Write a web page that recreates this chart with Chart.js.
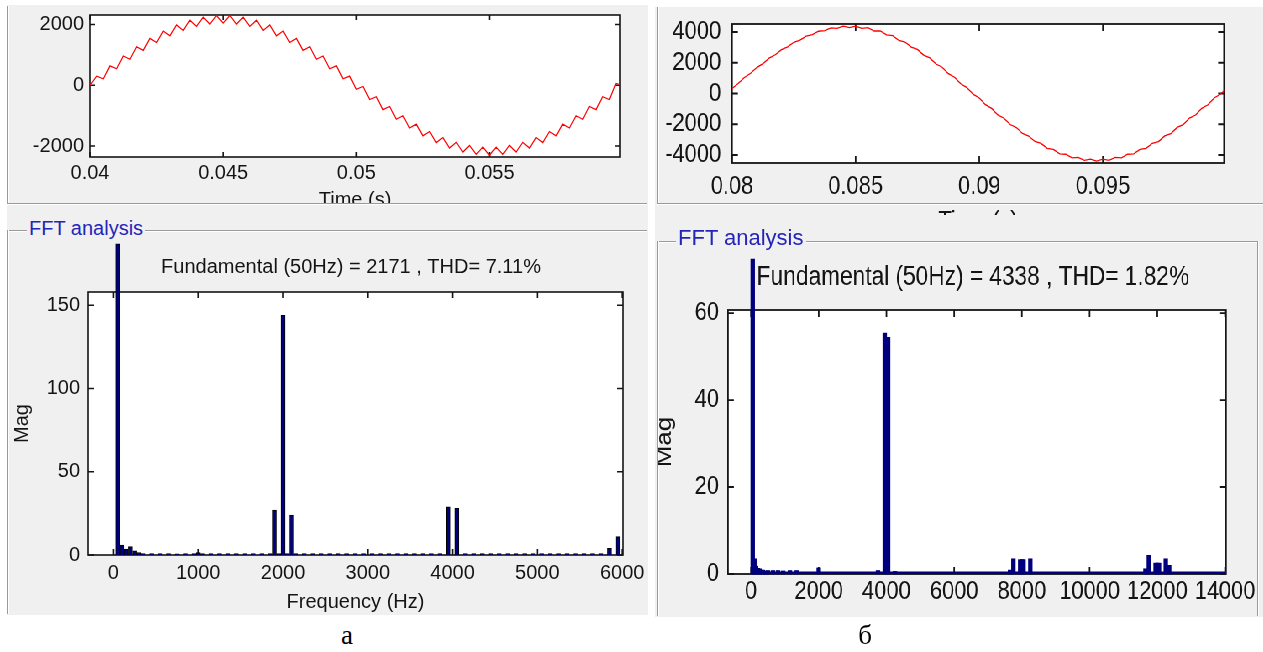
<!DOCTYPE html>
<html><head><meta charset="utf-8">
<script src="https://cdn.jsdelivr.net/npm/chart.js@4.4.1/dist/chart.umd.min.js"></script>
<style>
html,body{margin:0;padding:0;background:#fff;width:1263px;height:652px;overflow:hidden;font-family:"Liberation Sans",Arial,sans-serif;}
.panel{position:absolute;background:#f0f0f0;}
.hl{position:absolute;height:1px;background:#9a9a9a;box-shadow:0 1px 0 #ffffff;}
.vl{position:absolute;width:1px;background:#9a9a9a;box-shadow:1px 0 0 #ffffff;}
.clip{position:absolute;overflow:hidden;}
.grp{position:absolute;background:#f0f0f0;color:#2424b8;white-space:nowrap;padding:0 2px;line-height:1;}
.cap{position:absolute;font-family:"Liberation Serif","Times New Roman",serif;font-size:27px;line-height:1;color:#000;transform:translateX(-50%);}
canvas{position:absolute;}
</style></head>
<body>
<!-- panels -->
<div class="panel" style="left:7px;top:5px;width:641px;height:610px"></div>
<div class="panel" style="left:655px;top:7px;width:608px;height:610px"></div>

<!-- frame lines -->
<div class="vl" style="left:7px;top:6px;height:197px"></div>
<div class="hl" style="left:7px;top:203px;width:640px"></div>
<div class="hl" style="left:7px;top:230px;width:640px"></div>
<div class="vl" style="left:7px;top:230px;height:384px"></div>

<div class="vl" style="left:657px;top:7px;height:196px"></div>
<div class="hl" style="left:657px;top:203px;width:606px"></div>
<div class="hl" style="left:657px;top:241px;width:600px"></div>
<div class="vl" style="left:657px;top:241px;height:375px"></div>
<div class="vl" style="left:1257px;top:241px;height:375px"></div>

<!-- left charts -->
<div class="clip" style="left:8px;top:6px;width:632px;height:197px"><canvas id="cA" width="632" height="215" style="left:0;top:0"></canvas></div>
<div class="grp" style="left:27px;top:218px;font-size:20px">FFT analysis</div>
<canvas id="cC" width="686" height="378" style="left:8px;top:236px"></canvas>

<!-- right charts (horizontally condensed like the original screenshot) -->
<div style="position:absolute;left:655px;top:0;width:760px;height:652px;transform:scaleX(0.84);transform-origin:0 0;">
  <div class="clip" style="left:0;top:7px;width:724px;height:208px"><canvas id="cB" width="724" height="240" style="left:0;top:0"></canvas></div>
  <canvas id="cD" width="751" height="370" style="left:3px;top:246px"></canvas>
</div>
<div class="grp" style="left:676px;top:227px;font-size:22px">FFT analysis</div>

<div class="cap" style="left:347px;top:622px">а</div>
<div class="cap" style="left:865px;top:622px">б</div>

<script>
// ---------------- data ----------------
const timeLeft = [0.04,0.04025,0.0405,0.04075,0.041,0.04125,0.0415,0.04175,0.042,0.04225,0.0425,0.04275,0.043,0.04325,0.0435,0.04375,0.044,0.04425,0.0445,0.04475,0.045,0.04525,0.0455,0.04575,0.046,0.04625,0.0465,0.04675,0.047,0.04725,0.0475,0.04775,0.048,0.04825,0.0485,0.04875,0.049,0.04925,0.0495,0.04975,0.05,0.05025,0.0505,0.05075,0.051,0.05125,0.0515,0.05175,0.052,0.05225,0.0525,0.05275,0.053,0.05325,0.0535,0.05375,0.054,0.05425,0.0545,0.05475,0.055,0.05525,0.0555,0.05575,0.056,0.05625,0.0565,0.05675,0.057,0.05725,0.0575,0.05775,0.058,0.05825,0.0585,0.05875,0.059,0.05925,0.0595,0.05975,0.06];
const signalLeft = [0,300,210,637,541,961,856,1264,1146,1540,1405,1781,1626,1981,1804,2136,1935,2241,2014,2294,2041,2294,2014,2241,1935,2136,1804,1981,1626,1781,1405,1540,1146,1264,856,961,541,637,210,300,-130,-40,-470,-377,-801,-701,-1116,-1004,-1406,-1280,-1665,-1521,-1886,-1721,-2064,-1876,-2195,-1981,-2274,-2034,-2301,-2034,-2274,-1981,-2195,-1876,-2064,-1721,-1886,-1521,-1665,-1280,-1406,-1004,-1116,-701,-801,-377,-470,60,0];

const timeRight = [0.08,0.08025,0.0805,0.08075,0.081,0.08125,0.0815,0.08175,0.082,0.08225,0.0825,0.08275,0.083,0.08325,0.0835,0.08375,0.084,0.08425,0.0845,0.08475,0.085,0.08525,0.0855,0.08575,0.086,0.08625,0.0865,0.08675,0.087,0.08725,0.0875,0.08775,0.088,0.08825,0.0885,0.08875,0.089,0.08925,0.0895,0.08975,0.09,0.09025,0.0905,0.09075,0.091,0.09125,0.0915,0.09175,0.092,0.09225,0.0925,0.09275,0.093,0.09325,0.0935,0.09375,0.094,0.09425,0.0945,0.09475,0.095,0.09525,0.0955,0.09575,0.096,0.09625,0.0965,0.09675,0.097,0.09725,0.0975,0.09775,0.098,0.09825,0.0985,0.09875,0.099,0.09925,0.0995,0.09975,0.1];
const signalRight = [330,650,1040,1315,1685,1940,2300,2520,2850,3035,3330,3475,3735,3825,4050,4085,4270,4235,4385,4290,4385,4235,4280,4065,4070,3815,3760,3450,3350,3015,2865,2500,2315,1920,1710,1290,1060,635,385,-45,-295,-725,-970,-1390,-1610,-2020,-2215,-2600,-2765,-3120,-3245,-3565,-3640,-3925,-3950,-4185,-4160,-4345,-4265,-4400,-4265,-4345,-4160,-4185,-3950,-3925,-3640,-3570,-3240,-3125,-2760,-2610,-2205,-2030,-1600,-1400,-965,-730,-290,-50,330];

const fftFreqLeft = [50,100,150,200,250,300,1000,1900,2000,2100,3950,4050,5850,5950];
const fftMagLeft  = [187,6,3.5,5,2.5,1.5,1.5,27,144,24,29,28,4,11];
const floorFreqLeft = [350,450,550,650,750,850,950,1050,1150,1250,1350,1450,1550,1650,1750,1850,1950,2050,2150,2250,2350,2450,2550,2650,2750,2850,2950,3050,3150,3250,3350,3450,3550,3650,3750,3850,4150,4250,4350,4450,4550,4650,4750,4850,4950,5050,5150,5250,5350,5450,5550,5650,5750];
const floorMagLeft  = [0.9,0.8,0.8,0.8,0.7,0.8,0.8,0.8,0.8,0.8,0.8,0.8,0.8,0.8,0.8,0.9,0.9,0.9,0.9,0.8,0.8,0.8,0.8,0.8,0.8,0.8,0.8,0.8,0.8,0.8,0.8,0.8,0.8,0.8,0.8,0.9,0.9,0.8,0.8,0.8,0.8,0.8,0.8,0.8,0.8,0.8,0.8,0.8,0.8,0.8,0.8,0.8,0.9];

const fftFreqRight = [50,100,150,200,250,300,350,400,450,500,650,800,950,1150,1350,2000,3750,3950,4050,4250,7650,7750,7950,8000,8050,8250,11650,11750,11950,12000,12050,12250,12350];
const fftMagRight  = [72.4,3.5,1.8,1.3,1.2,0.9,0.9,0.7,0.6,0.8,0.8,0.8,0.7,0.8,0.8,1.4,0.8,55.4,54.4,0.6,0.9,3.5,3.3,3.3,3.3,3.5,1.2,4.3,2.5,2.5,2.5,3.5,2.0];
const floorFreqRight = [0,14000];
const floorMagRight  = [0.25,0.25];

// tick values
const ticksTimeLeft   = [0.04,0.045,0.05,0.055];
const ticksSignalLeft = [-2000,0,2000];
const ticksTimeRight  = [0.08,0.085,0.09,0.095];
const ticksSignalRight= [-4000,-2000,0,2000,4000];
const ticksFreqLeft   = [0,1000,2000,3000,4000,5000,6000];
const ticksMagLeft    = [0,50,100,150];
const ticksFreqRight  = [0,2000,4000,6000,8000,10000,12000,14000];
const ticksMagRight   = [0,20,40,60];

const titleLeft  = 'Fundamental (50Hz) = 2171 , THD= 7.11%';
const titleRight = 'Fundamental (50Hz) = 4338 , THD= 1.82%';
const timeLabel = 'Time (s)';
const freqLabel = 'Frequency (Hz)';
const magLabel = 'Mag';

// ---------------- helpers ----------------
const TXT = '#141414';
const FF = '"Liberation Sans", Arial, Helvetica, sans-serif';
const fmt = v => String(+Number(v).toFixed(6));
const pts = (xs, ys) => xs.map((x, i) => ({x: x, y: ys[i]}));

const framePlugin = {
  id: 'frame',
  beforeDraw(chart) {
    const {ctx, chartArea: a} = chart;
    ctx.save();
    ctx.fillStyle = '#ffffff';
    ctx.fillRect(a.left, a.top, a.right - a.left, a.bottom - a.top);
    ctx.restore();
  },
  beforeDatasetsDraw(chart, args, opts) {
    const {ctx, chartArea: a, scales} = chart;
    const xs = scales.x, ys = scales.y, L = opts.len || 5;
    ctx.save();
    ctx.strokeStyle = '#151515';
    ctx.lineWidth = opts.lw || 1.5;
    ctx.beginPath();
    xs.ticks.forEach(t => {
      const p = xs.getPixelForValue(t.value);
      ctx.moveTo(p, a.bottom); ctx.lineTo(p, a.bottom - L);
      ctx.moveTo(p, a.top); ctx.lineTo(p, a.top + L);
    });
    ys.ticks.forEach(t => {
      const p = ys.getPixelForValue(t.value);
      ctx.moveTo(a.left, p); ctx.lineTo(a.left + L, p);
      ctx.moveTo(a.right, p); ctx.lineTo(a.right - L, p);
    });
    ctx.stroke();
    ctx.strokeRect(a.left, a.top, a.right - a.left, a.bottom - a.top);
    ctx.restore();
  }
};

function makeChart(id, type, datasets, o) {
  const scales = {
    x: {
      type: 'linear', min: o.xmin, max: o.xmax, offset: false,
      grid: {display: false, drawTicks: false}, border: {display: false},
      ticks: {autoSkip: false, maxRotation: 0, minRotation: 0,
        padding: o.xlp, color: TXT, font: {family: FF, size: o.fs}, callback: fmt},
      title: o.xtitle ? {display: true, text: o.xtitle, color: TXT, font: {family: FF, size: o.fs},
        padding: {top: 0, bottom: o.xtp}} : {display: false},
      afterBuildTicks(s) { s.ticks = o.xticks.map(v => ({value: v})); },
      afterFit(s) { s.height = o.xh; s.paddingLeft = 0; s.paddingRight = 0; }
    },
    y: {
      type: 'linear', position: 'left', min: o.ymin, max: o.ymax,
      grid: {display: false, drawTicks: false}, border: {display: false},
      ticks: {autoSkip: false,
        padding: o.ylp, color: TXT, font: {family: FF, size: o.fs}, callback: fmt},
      title: o.ytitle ? {display: true, text: o.ytitle, color: TXT, font: {family: FF, size: o.fs},
        padding: {top: o.ytp, bottom: 0}} : {display: false},
      afterBuildTicks(s) { s.ticks = o.yticks.map(v => ({value: v})); },
      afterFit(s) { s.width = o.yw; s.paddingTop = 0; s.paddingBottom = 0; }
    }
  };
  if (o.y2w) {
    // empty spacer axis on the right so that the title sits where the original has it
    scales.y2 = {
      type: 'linear', position: 'right', min: 0, max: 1,
      grid: {display: false, drawTicks: false}, border: {display: false},
      ticks: {display: false},
      afterFit(s) { s.width = o.y2w; s.paddingTop = 0; s.paddingBottom = 0; }
    };
  }
  return new Chart(document.getElementById(id), {
    type: type,
    data: {datasets: datasets},
    plugins: [framePlugin],
    options: {
      responsive: false, animation: false, events: [],
      layout: {padding: o.pad},
      plugins: {
        legend: {display: false},
        tooltip: {enabled: false},
        title: o.title ? {display: true, text: o.title, color: TXT,
          font: {family: FF, size: o.tfs, weight: 'normal'}, padding: o.tpad} : {display: false},
        frame: {len: o.tick, lw: o.lw}
      },
      scales: scales
    }
  });
}

// ---------------- charts ----------------
// а: time signal
makeChart('cA', 'line', [{
  data: pts(timeLeft, signalLeft), borderColor: '#ff0000', borderWidth: 1.2,
  pointRadius: 0, tension: 0, fill: false
}], {
  pad: {left: 0, top: 9, right: 20, bottom: 0},
  xmin: 0.04, xmax: 0.0599, xticks: ticksTimeLeft, xh: 64, xlp: 4, xtitle: timeLabel, xtp: 9,
  ymin: -2360, ymax: 2310, yticks: ticksSignalLeft, yw: 82, ylp: 6,
  fs: 20, tick: 5, lw: 1.6
});

// а: FFT
makeChart('cC', 'bar', [{
  data: pts(fftFreqLeft, fftMagLeft).concat(pts(floorFreqLeft, floorMagLeft)),
  backgroundColor: '#00007f', borderColor: '#000000', borderWidth: 1,
  barThickness: 4, clip: false
}], {
  pad: {left: 0, top: 0, right: 0, bottom: 0},
  title: titleLeft, tfs: 20, tpad: {top: 19, bottom: 13},
  xmin: -300, xmax: 6010, xticks: ticksFreqLeft, xh: 59, xlp: 6, xtitle: freqLabel, xtp: 0,
  ymin: 0, ymax: 158, yticks: ticksMagLeft, yw: 80, ylp: 8, ytitle: magLabel, ytp: 2,
  y2w: 71,
  fs: 20, tick: 6, lw: 1.6
});

// б: time signal
makeChart('cB', 'line', [{
  data: pts(timeRight, signalRight), borderColor: '#ff0000', borderWidth: 1.3,
  pointRadius: 0, tension: 0, fill: false
}], {
  pad: {left: 0, top: 17, right: 46.6, bottom: 0},
  xmin: 0.08, xmax: 0.0999, xticks: ticksTimeRight, xh: 84, xlp: 8.4, xtitle: timeLabel, xtp: 9.4,
  ymin: -4520, ymax: 4520, yticks: ticksSignalRight, yw: 91.7, ylp: 13,
  fs: 26, tick: 7, lw: 1.8
});

// б: FFT
makeChart('cD', 'bar', [{
  data: pts(fftFreqRight, fftMagRight),
  backgroundColor: '#00007f', borderWidth: 0, barThickness: 4.6, clip: false
}, {
  type: 'line', data: pts(floorFreqRight, floorMagRight),
  borderColor: '#00007f', borderWidth: 2.6, pointRadius: 0, fill: false
}], {
  pad: {left: 0, top: 0, right: 0, bottom: 0},
  title: titleRight, tfs: 27, tpad: {top: 15.8, bottom: 15.8},
  xmin: -680, xmax: 14030, xticks: ticksFreqRight, xh: 42, xlp: 2.4,
  ymin: 0, ymax: 60.7, yticks: ticksMagRight, yw: 83.9, ylp: 10.7, ytitle: magLabel, ytp: -6.7,
  y2w: 74.2,
  fs: 26, tick: 7, lw: 1.8
});
</script>
</body></html>
